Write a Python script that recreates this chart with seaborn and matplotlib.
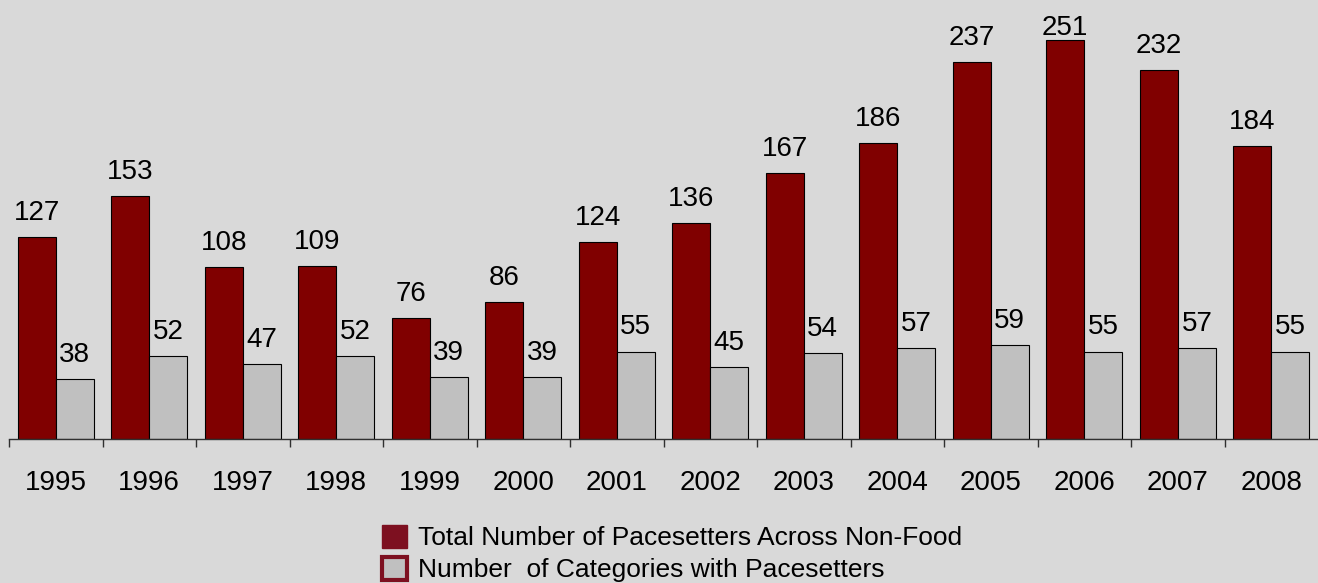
import matplotlib
matplotlib.use("Agg")
import matplotlib.pyplot as plt
from matplotlib.patches import Patch
import numpy as np
import pandas as pd
import seaborn as sns

years = ["1995", "1996", "1997", "1998", "1999", "2000", "2001",
         "2002", "2003", "2004", "2005", "2006", "2007", "2008"]
total_pacesetters = [127, 153, 108, 109, 76, 86, 124, 136, 167, 186, 237, 251, 232, 184]
categories_with = [38, 52, 47, 52, 39, 39, 55, 45, 54, 57, 59, 55, 57, 55]
series_names = ["Total Number of Pacesetters Across Non-Food",
                "Number  of Categories with Pacesetters"]

BG = "#d9d9d9"
RED = "#800000"
GREY = "#c0c0c0"
LEGEND_RED = "#7d1020"

sns.set_theme(style="white")
plt.rcParams["font.family"] = ["Liberation Sans", "DejaVu Sans"]
plt.rcParams["text.color"] = "black"

df = pd.DataFrame({
    "year": years * 2,
    "value": total_pacesetters + categories_with,
    "series": [series_names[0]] * len(years) + [series_names[1]] * len(years),
})

fig = plt.figure(figsize=(13.18, 5.83), dpi=100, facecolor=BG)
ax = fig.add_axes([9 / 1318, 1 - 439 / 583, 1 - 9 / 1318, 439 / 583])
ax.set_facecolor(BG)

YMAX = 276
sns.barplot(data=df, x="year", y="value", hue="series", order=years,
            hue_order=series_names, palette=[RED, GREY], saturation=1,
            width=0.815, edgecolor="black", linewidth=0.8, legend=False, ax=ax)

# value labels above each bar, kept inside the plotting area
label_gap = 10.7      # data units between bar top and label baseline
label_cap = 254       # highest allowed label baseline
for container in ax.containers:
    for bar in container:
        h = bar.get_height()
        ax.text(bar.get_x() + bar.get_width() / 2, min(h + label_gap, label_cap),
                f"{int(round(h))}", ha="center", va="baseline",
                fontsize=20, color="black")

ax.set_xlim(-0.5, len(years) - 0.5)
ax.set_ylim(0, YMAX)
ax.set_xlabel("")
ax.set_ylabel("")
ax.set_yticks([])

for side in ["top", "right", "left"]:
    ax.spines[side].set_visible(False)
ax.spines["bottom"].set_color("#303030")
ax.spines["bottom"].set_linewidth(1.0)

# year labels at group centres, tick marks at group boundaries
ax.set_xticks(np.arange(len(years)))
ax.set_xticklabels(years, fontsize=20, color="black")
ax.tick_params(axis="x", which="major", length=0, pad=22)
ax.set_xticks(np.arange(len(years)) - 0.5, minor=True)
ax.tick_params(axis="x", which="minor", length=6, width=1.0,
               color="#303030", direction="out", bottom=True)

handles = [
    Patch(facecolor=LEGEND_RED, edgecolor=LEGEND_RED, linewidth=1.0, joinstyle="round"),
    Patch(facecolor=GREY, edgecolor=LEGEND_RED, linewidth=3.0, joinstyle="round"),
]
leg = fig.legend(handles, series_names, loc="upper left",
                 bbox_to_anchor=(382 / 1318, 1 - 525 / 583),
                 frameon=False, fontsize=19, borderpad=0, borderaxespad=0,
                 handlelength=0.95, handleheight=0.95, handletextpad=0.42,
                 labelspacing=0.24)
for t in leg.get_texts():
    t.set_color("black")

fig.savefig("out.png", dpi=100, facecolor=BG)
